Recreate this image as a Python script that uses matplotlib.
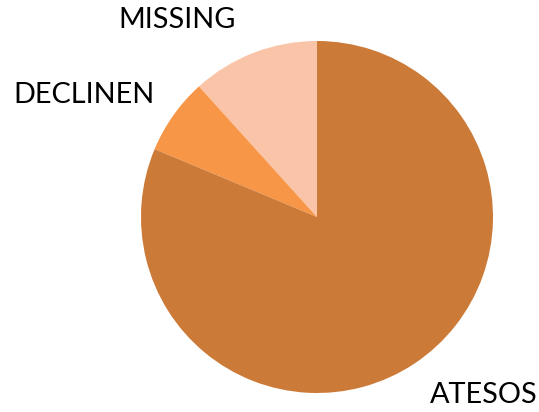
import matplotlib
matplotlib.use("Agg")
import matplotlib.pyplot as plt

categories = ["MISSING", "DECLINEN", "ATESOS"]
values = [11.7, 7.0, 81.3]
colors = ["#FAC4A8", "#F79646", "#CC7A38"]

W, H = 539, 412
fig = plt.figure(figsize=(W / 100, H / 100), dpi=100)
cx, cy, r = 317, 217, 176
ax = fig.add_axes([(cx - r) / W, (H - cy - r) / H, 2 * r / W, 2 * r / H])
ax.pie(values, colors=colors, startangle=90, counterclock=True, radius=1,
       wedgeprops=dict(linewidth=0))
ax.set_xlim(-1, 1)
ax.set_ylim(-1, 1)
ax.set_aspect("equal")
ax.axis("off")

label_pos = {"MISSING": (177, 20), "DECLINEN": (84, 95), "ATESOS": (484, 395)}
for name in categories:
    px, py = label_pos[name]
    ax.text((px - cx) / r, (cy - py) / r, name, ha="center", va="center",
            fontsize=20.8, family=["Lato", "DejaVu Sans"], color="black", clip_on=False)

fig.savefig("out.png", dpi=100, facecolor="white")
